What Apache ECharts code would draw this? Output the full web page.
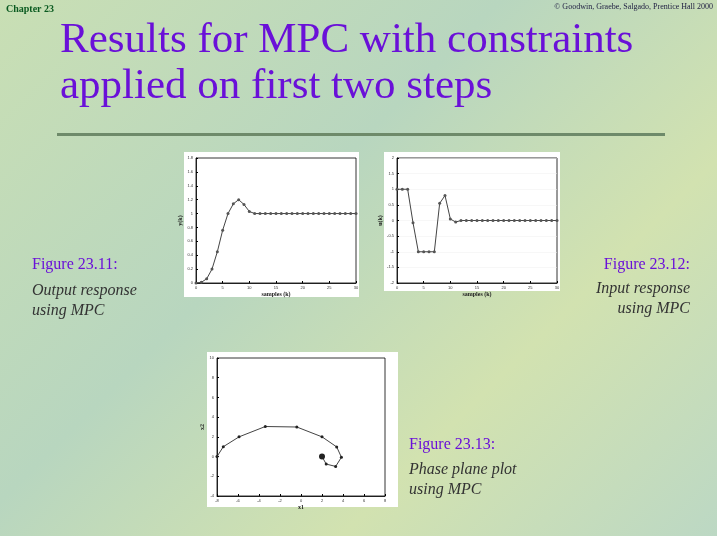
<!DOCTYPE html>
<html><head><meta charset="utf-8">
<script src="https://cdn.jsdelivr.net/npm/echarts@6/dist/echarts.min.js"></script>
<style>html,body{margin:0;padding:0;}#main{width:717px;height:536px;background:linear-gradient(135deg,#c9dfb4,#b8d6bf 40%,#d2e2b0 70%,#bcd8c4);}</style>
</head><body><div id="main"></div>
<script>
// output response y(k), k = 0..30
var outY = [0, 0.01, 0.06, 0.2, 0.45, 0.76, 1.0, 1.14, 1.2, 1.13, 1.03, 1.0,
  1, 1, 1, 1, 1, 1, 1, 1, 1, 1, 1, 1, 1, 1, 1, 1, 1, 1, 1];
// input response u(k), k = 0..30
var inU = [1, 1, 1, -0.07, -1, -1, -1, -1, 0.55, 0.8, 0.05, -0.05,
  0, 0, 0, 0, 0, 0, 0, 0, 0, 0, 0, 0, 0, 0, 0, 0, 0, 0, 0];
// phase plane x1, x2
var phX1 = [-8, -7.4, -5.9, -3.4, -0.4, 2, 3.4, 3.85, 3.3, 2.4, 2];
var phX2 = [0, 1.0, 2.0, 3.05, 3.0, 2.0, 0.98, -0.07, -1.0, -0.76, 0];

var chart = echarts.init(document.getElementById('main'));
var serif = '"Liberation Serif", serif';
function ax(extra) {
  return Object.assign({
    axisLine: { onZero: false, lineStyle: { color: '#000', width: 0.8 } },
    axisTick: { inside: true, length: 2, lineStyle: { color: '#000' } },
    axisLabel: { fontSize: 4, color: '#333', margin: 3 },
    splitLine: { show: false },
    nameTextStyle: { fontSize: 6, color: '#222', fontFamily: serif, fontWeight: 'bold' }
  }, extra);
}
var pts = function (a) { return a.map(function (v, i) { return [i, v]; }); };
var lineS = { color: '#444', width: 1 };
var itemS = { color: '#555' };
var box = { show: true, borderColor: '#000', borderWidth: 0.8 };

var option = {
  animation: false,
  graphic: [
    { type: 'text', left: 6, top: 4, style: { text: 'Chapter 23', font: 'bold 10px ' + serif, fill: '#0a5a20' } },
    { type: 'text', right: 4, top: 3, style: { text: '© Goodwin, Graebe, Salgado, Prentice Hall 2000', font: '8px ' + serif, fill: '#224' } },
    { type: 'text', left: 60, top: 18, style: { text: 'Results for MPC with constraints\napplied on first two steps', font: '43px ' + serif, fill: '#6a10d8', lineHeight: 46 } },
    { type: 'rect', shape: { x: 57, y: 133, width: 608, height: 3 }, style: { fill: '#6e8a6a' } },
    { type: 'rect', z: -1, shape: { x: 184, y: 152, width: 175, height: 145 }, style: { fill: '#fff' } },
    { type: 'rect', z: -1, shape: { x: 384, y: 152, width: 176, height: 139 }, style: { fill: '#fff' } },
    { type: 'rect', z: -1, shape: { x: 207, y: 352, width: 191, height: 155 }, style: { fill: '#fff' } },
    { type: 'text', x: 32, y: 257, style: { text: 'Figure 23.11:', font: '16px ' + serif, fill: '#6a10d8' } },
    { type: 'text', x: 32, y: 281, style: { text: 'Output response\nusing MPC', font: 'italic 16px ' + serif, fill: '#333', lineHeight: 20 } },
    { type: 'text', x: 690, y: 257, style: { text: 'Figure 23.12:', font: '16px ' + serif, fill: '#6a10d8', align: 'right' } },
    { type: 'text', x: 690, y: 281, style: { text: 'Input response', font: 'italic 16px ' + serif, fill: '#333', align: 'right' } },
    { type: 'text', x: 690, y: 301, style: { text: 'using MPC', font: 'italic 16px ' + serif, fill: '#333', align: 'right' } },
    { type: 'text', x: 409, y: 437, style: { text: 'Figure 23.13:', font: '16px ' + serif, fill: '#6a10d8' } },
    { type: 'text', x: 409, y: 460, style: { text: 'Phase plane plot\nusing MPC', font: 'italic 16px ' + serif, fill: '#333', lineHeight: 20 } }
  ],
  grid: [
    Object.assign({ left: 196, top: 158, width: 160, height: 125 }, box),
    Object.assign({ left: 397, top: 158, width: 160, height: 125 }, box),
    Object.assign({ left: 217, top: 358, width: 168, height: 138 }, box)
  ],
  xAxis: [
    ax({ gridIndex: 0, type: 'value', min: 0, max: 30, interval: 5, name: 'samples (k)', nameLocation: 'middle', nameGap: 8 }),
    ax({ gridIndex: 1, type: 'value', min: 0, max: 30, interval: 5, name: 'samples (k)', nameLocation: 'middle', nameGap: 8 }),
    ax({ gridIndex: 2, type: 'value', min: -8, max: 8, interval: 2, name: 'x1', nameLocation: 'middle', nameGap: 8 })
  ],
  yAxis: [
    ax({ gridIndex: 0, type: 'value', min: 0, max: 1.8, interval: 0.2, name: 'y(k)', nameLocation: 'middle', nameGap: 6 }),
    ax({ gridIndex: 1, type: 'value', min: -2, max: 2, interval: 0.5, name: 'u(k)', nameLocation: 'middle', nameGap: 6,
      splitLine: { show: true, lineStyle: { color: '#eee', width: 0.5 } } }),
    ax({ gridIndex: 2, type: 'value', min: -4, max: 10, interval: 2, name: 'x2', nameLocation: 'middle', nameGap: 6 })
  ],
  series: [
    { type: 'line', xAxisIndex: 0, yAxisIndex: 0, data: pts(outY), symbol: 'circle', symbolSize: 3, lineStyle: lineS, itemStyle: itemS },
    { type: 'line', xAxisIndex: 1, yAxisIndex: 1, data: pts(inU), symbol: 'circle', symbolSize: 3, lineStyle: lineS, itemStyle: itemS },
    { type: 'line', xAxisIndex: 2, yAxisIndex: 2, data: phX1.map(function (v, i) { return [v, phX2[i]]; }),
      symbol: 'circle',
      symbolSize: function (v, p) { return p.dataIndex === phX1.length - 1 ? 6 : 3; },
      lineStyle: lineS, itemStyle: { color: '#222' } }
  ]
};
option && chart.setOption(option);
</script></body></html>
